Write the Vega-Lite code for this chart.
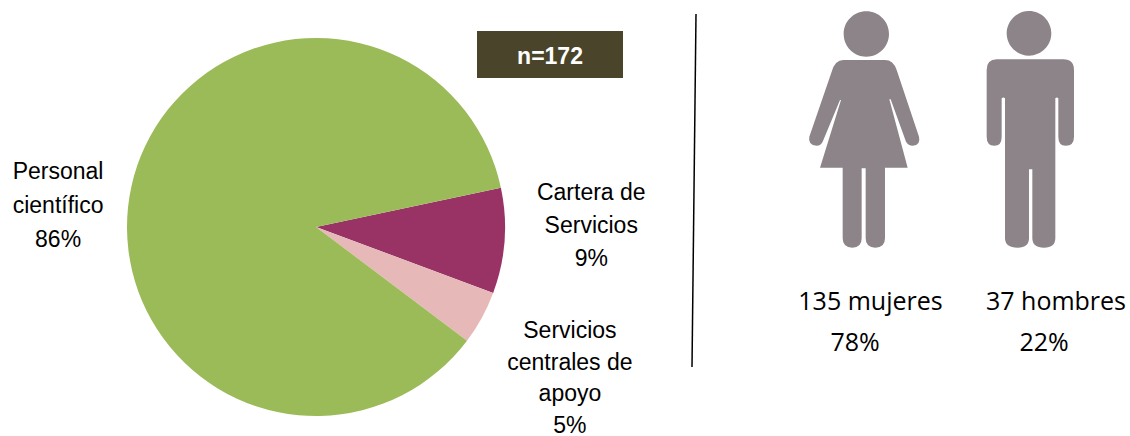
{
"$schema":"https://vega.github.io/schema/vega-lite/v6.json",
"background":"white",
"padding":{"left":0,"top":11,"right":0,"bottom":0},
"spacing":0,
"config":{"view":{"stroke":null},"concat":{"spacing":0}},
"hconcat":[
{"width":632,"height":418,
 "data":{"values":[
  {"categoria":"Cartera de Servicios","valor":9,"orden":1,"etiqueta":"Cartera de\nServicios\n9%"},
  {"categoria":"Servicios centrales de apoyo","valor":4.6,"orden":2,"etiqueta":"Servicios\ncentrales de\napoyo\n5%"},
  {"categoria":"Personal científico","valor":86.4,"orden":3,"etiqueta":"Personal\ncientífico\n86%"}
 ]},
 "transform":[
  {"stack":"valor","sort":[{"field":"orden","order":"ascending"}],"as":["t0","t1"]},
  {"calculate":"(datum.t0+datum.t1)/2","as":"mid"}
 ],
 "layer":[
  {"mark":{"type":"arc","outerRadius":189},
   "encoding":{
    "theta":{"field":"t0","type":"quantitative","stack":null,"scale":{"domain":[0,100],"range":[1.3614,7.6445]}},
    "theta2":{"field":"t1"},
    "color":{"field":"categoria","type":"nominal","legend":null,"scale":{"domain":["Personal científico","Cartera de Servicios","Servicios centrales de apoyo"],"range":["#9bbb59","#993366","#e6b9b8"]}}
   }},
  {"transform":[{"filter":"datum.orden==3"}],
   "mark":{"type":"text","radius":258,"dx":-6,"dy":1,"font":"Liberation Sans","fontSize":23,"lineBreak":"\n","lineHeight":34,"align":"center","baseline":"middle","color":"#000"},
   "encoding":{"theta":{"field":"mid","type":"quantitative","stack":null,"scale":{"domain":[0,100],"range":[1.3614,7.6445]}},"text":{"field":"etiqueta"}}},
  {"transform":[{"filter":"datum.orden==1"}],
   "mark":{"type":"text","radius":276,"dx":0,"dy":-54,"font":"Liberation Sans","fontSize":23,"lineBreak":"\n","lineHeight":33,"align":"center","baseline":"middle","color":"#000"},
   "encoding":{"theta":{"field":"mid","type":"quantitative","stack":null,"scale":{"domain":[0,100],"range":[1.3614,7.6445]}},"text":{"field":"etiqueta"}}},
  {"transform":[{"filter":"datum.orden==2"}],
   "mark":{"type":"text","radius":294,"dx":-4,"dy":-37,"font":"Liberation Sans","fontSize":23,"lineBreak":"\n","lineHeight":31.5,"align":"center","baseline":"middle","color":"#000"},
   "encoding":{"theta":{"field":"mid","type":"quantitative","stack":null,"scale":{"domain":[0,100],"range":[1.3614,7.6445]}},"text":{"field":"etiqueta"}}},
  {"data":{"values":[{"texto":"n=172"}]},"transform":[],
   "mark":{"type":"rect","color":"#4a452a"},
   "encoding":{
    "x":{"datum":477,"type":"quantitative","axis":null,"scale":{"domain":[0,632],"nice":false,"zero":false}},
    "x2":{"datum":623},
    "y":{"datum":13,"type":"quantitative","axis":null,"scale":{"domain":[418,0],"nice":false,"zero":false}},
    "y2":{"datum":60}
   }},
  {"data":{"values":[{"texto":"n=172"}]},"transform":[],
   "mark":{"type":"text","font":"Liberation Sans","fontSize":23,"fontWeight":"bold","color":"white","align":"center","baseline":"middle"},
   "encoding":{
    "x":{"datum":550,"type":"quantitative","axis":null,"scale":{"domain":[0,632],"nice":false,"zero":false}},
    "y":{"datum":39,"type":"quantitative","axis":null,"scale":{"domain":[418,0],"nice":false,"zero":false}},
    "text":{"field":"texto"}
   }},
  {"data":{"values":[{"tipo":"separador"}]},"transform":[],
   "mark":{"type":"rule","color":"#000","strokeWidth":1.5},
   "encoding":{
    "x":{"datum":696,"type":"quantitative","axis":null,"scale":{"domain":[0,632],"nice":false,"zero":false}},
    "x2":{"datum":692},
    "y":{"datum":-4,"type":"quantitative","axis":null,"scale":{"domain":[418,0],"nice":false,"zero":false}},
    "y2":{"datum":349}
   }}
 ]},
{"width":433,"height":418,
 "data":{"values":[
  {"genero":"mujeres","personas":135,"pct":78,"texto":"135 mujeres","porcentaje":"78%"},
  {"genero":"hombres","personas":37,"pct":22,"texto":"37 hombres","porcentaje":"22%"}
 ]},
 "encoding":{"x":{"field":"genero","type":"nominal","axis":null,"sort":["mujeres","hombres"],"scale":{"type":"point","padding":0,"domain":["mujeres","hombres"],"range":[168,333]}}},
 "layer":[
  {"mark":{"type":"point","filled":true,"color":"#8c8488","opacity":1,"size":0.4444,"strokeWidth":0},
   "encoding":{
    "y":{"value":112},
    "shape":{"field":"genero","type":"nominal","legend":null,"scale":{"domain":["mujeres","hombres"],"range":[
     "M-64,-288a68,68 0 1,0 136,0a68,68 0 1,0 -136,0ZM-65,-210Q-90,-210 -100,-175L-167,20Q-172,45 -145,47Q-133,47 -127,35L-75,-90L-72,-90L-135,113L-67,113L-67,325Q-67,353 -38,353Q-10,353 -10,325L-10,115L2,115L2,325Q2,353 31,353Q60,353 60,325L60,113L128,113L73,-92L77,-92L123,35Q130,47 143,47Q168,45 162,20L95,-180Q85,-210 60,-210Z",
     "M-70,-290a67,67 0 1,0 134,0a67,67 0 1,0 -134,0ZM-100,-212Q-130,-212 -130,-180L-130,20Q-130,47 -107,47Q-85,47 -85,20L-85,-95Q-80,-100 -75,-95L-75,325Q-75,353 -37,353Q-3,353 -3,325L-3,118L7,118L7,325Q7,353 42,353Q76,353 76,325L76,-95Q80,-100 85,-95L85,20Q85,47 107,47Q132,47 132,20L132,-180Q132,-212 100,-212Z"
    ]}}
   }},
  {"transform":[{"filter":"datum.genero=='mujeres'"}],
   "mark":{"type":"text","font":"Open Sans","fontSize":25,"dx":5.5,"color":"#000","baseline":"middle"},
   "encoding":{"y":{"value":284},"text":{"field":"texto"}}},
  {"transform":[{"filter":"datum.genero=='hombres'"}],
   "mark":{"type":"text","font":"Open Sans","fontSize":25,"dx":26,"color":"#000","baseline":"middle"},
   "encoding":{"y":{"value":284},"text":{"field":"texto"}}},
  {"transform":[{"filter":"datum.genero=='mujeres'"}],
   "mark":{"type":"text","font":"Open Sans","fontSize":25,"dx":-10,"color":"#000","baseline":"middle"},
   "encoding":{"y":{"value":325},"text":{"field":"porcentaje"}}},
  {"transform":[{"filter":"datum.genero=='hombres'"}],
   "mark":{"type":"text","font":"Open Sans","fontSize":25,"dx":14,"color":"#000","baseline":"middle"},
   "encoding":{"y":{"value":325},"text":{"field":"porcentaje"}}}
 ]}
]
}
